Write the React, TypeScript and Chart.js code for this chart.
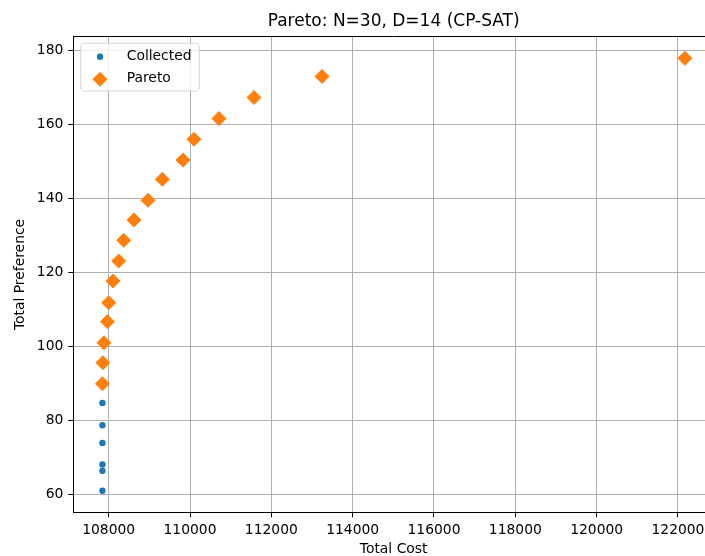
import React, { useEffect, useRef } from 'react';
import { Chart, registerables } from 'chart.js';

Chart.register(...registerables);

const chartTitle = 'Pareto: N=30, D=14 (CP-SAT)';
const xAxisLabel = 'Total Cost';
const yAxisLabel = 'Total Preference';
const collectedName = 'Collected';
const paretoName = 'Pareto';

// Pareto front (orange diamonds)
const paretoCost = [107846, 107858, 107884, 107968, 108000, 108106, 108246, 108369, 108622, 108967, 109321, 109828, 110098, 110713, 111574, 113247, 122170];
const paretoPref = [89.8, 95.5, 100.9, 106.6, 111.7, 117.6, 123.0, 128.6, 134.1, 139.4, 145.1, 150.3, 155.9, 161.5, 167.2, 172.9, 177.8];

// Collected (dominated) solutions, blue dots visible below the front
const collectedCost = [107846, 107846, 107846, 107846, 107846, 107846];
const collectedPref = [84.6, 78.6, 73.8, 68.0, 66.3, 60.9];

const xTicks = [108000, 110000, 112000, 114000, 116000, 118000, 120000, 122000];
const yTicks = [60, 80, 100, 120, 140, 160, 180];

const BLUE = '#1f77b4';
const ORANGE = '#ff7f0e';
const FONT = '"DejaVu Sans", "Liberation Sans", sans-serif';

function margins(vals: number[]) {
  const lo = Math.min(...vals);
  const hi = Math.max(...vals);
  const m = (hi - lo) * 0.05;
  return { min: lo - m, max: hi + m };
}

const overlayPlugin = {
  id: 'overlay',
  afterDraw(chart: any) {
    const { ctx, chartArea: a } = chart;
    ctx.save();
    // top & right spines
    ctx.strokeStyle = '#000';
    ctx.lineWidth = 1;
    ctx.beginPath();
    const ty = Math.floor(a.top) + 0.5;
    ctx.moveTo(a.left, ty);
    ctx.lineTo(a.right, ty);
    ctx.lineTo(a.right, a.bottom);
    ctx.stroke();

    // legend inside axes (upper left)
    const bx = 80.7, by = 43.3, bw = 118.6, bh = 47.7, r = 3;
    ctx.beginPath();
    ctx.moveTo(bx + r, by);
    ctx.lineTo(bx + bw - r, by);
    ctx.arcTo(bx + bw, by, bx + bw, by + r, r);
    ctx.lineTo(bx + bw, by + bh - r);
    ctx.arcTo(bx + bw, by + bh, bx + bw - r, by + bh, r);
    ctx.lineTo(bx + r, by + bh);
    ctx.arcTo(bx, by + bh, bx, by + bh - r, r);
    ctx.lineTo(bx, by + r);
    ctx.arcTo(bx, by, bx + r, by, r);
    ctx.closePath();
    ctx.fillStyle = 'rgba(255,255,255,0.8)';
    ctx.fill();
    ctx.strokeStyle = 'rgba(204,204,204,0.8)';
    ctx.stroke();

    const rows = [56.7, 79.3];
    chart.data.datasets.forEach((ds: any, i: number) => {
      const cy = rows[i];
      const cx = 100;
      ctx.fillStyle = ds.backgroundColor;
      ctx.strokeStyle = ds.borderColor;
      ctx.lineWidth = ds.borderWidth || 0;
      if (ds.pointStyle === 'rectRot') {
        const rad = ds.pointRadius;
        ctx.beginPath();
        ctx.moveTo(cx, cy - rad);
        ctx.lineTo(cx + rad, cy);
        ctx.lineTo(cx, cy + rad);
        ctx.lineTo(cx - rad, cy);
        ctx.closePath();
        ctx.fill();
        if (ctx.lineWidth) ctx.stroke();
      } else {
        ctx.beginPath();
        ctx.arc(cx, cy, ds.pointRadius, 0, Math.PI * 2);
        ctx.fill();
      }
      ctx.fillStyle = '#000';
      ctx.font = `13.89px ${FONT}`;
      ctx.textBaseline = 'middle';
      ctx.textAlign = 'left';
      ctx.fillText(ds.label, 126.7, cy - 0.8);
    });
    ctx.restore();
  },
};

export default function App() {
  const ref = useRef<HTMLCanvasElement | null>(null);

  useEffect(() => {
    if (!ref.current) return;
    const xr = margins([...collectedCost, ...paretoCost]);
    const yr = margins([...collectedPref, ...paretoPref]);
    const chart = new Chart(ref.current, {
      type: 'scatter',
      data: {
        datasets: [
          {
            label: collectedName,
            data: collectedCost.map((x, i) => ({ x, y: collectedPref[i] })),
            backgroundColor: BLUE,
            borderColor: BLUE,
            borderWidth: 0,
            pointStyle: 'circle',
            pointRadius: 3.2,
            pointHoverRadius: 3.2,
          },
          {
            label: paretoName,
            data: paretoCost.map((x, i) => ({ x, y: paretoPref[i] })),
            backgroundColor: ORANGE,
            borderColor: ORANGE,
            borderWidth: 1,
            pointStyle: 'rectRot',
            pointRadius: 7,
            pointHoverRadius: 7,
          },
        ],
      },
      options: {
        animation: false,
        responsive: false,
        devicePixelRatio: 1,
        events: [],
        layout: { padding: { left: 0, right: 16, top: 0, bottom: 0 } },
        plugins: {
          legend: { display: false },
          tooltip: { enabled: false },
          title: {
            display: true,
            text: chartTitle,
            fullSize: false,
            color: '#000',
            font: { family: FONT, size: 17, weight: 'normal', lineHeight: 1.2 },
            padding: { top: 11.5, bottom: 4.8 },
          },
        },
        scales: {
          x: {
            type: 'linear',
            min: xr.min,
            max: xr.max,
            afterBuildTicks: (s: any) => { s.ticks = xTicks.map((v) => ({ value: v })); },
            afterFit: (s: any) => { s.height = 43.7; },
            grid: { color: '#b0b0b0', lineWidth: 1, drawTicks: true, tickLength: 5, tickColor: '#000' },
            border: { display: true, color: '#000', width: 1 },
            ticks: {
              color: '#000',
              padding: 5,
              maxRotation: 0,
              font: { family: FONT, size: 13.89 },
              callback: (v: any) => String(v),
            },
            title: {
              display: true,
              text: xAxisLabel,
              color: '#000',
              font: { family: FONT, size: 13.89, lineHeight: 1 },
              padding: { top: 0, bottom: 0 },
            },
          },
          y: {
            type: 'linear',
            min: yr.min,
            max: yr.max,
            afterBuildTicks: (s: any) => { s.ticks = yTicks.map((v) => ({ value: v })); },
            afterFit: (s: any) => { s.width = 73.3; },
            grid: { color: '#b0b0b0', lineWidth: 1, drawTicks: true, tickLength: 5, tickColor: '#000' },
            border: { display: true, color: '#000', width: 1 },
            ticks: {
              color: '#000',
              padding: 5,
              font: { family: FONT, size: 13.89 },
              callback: (v: any) => String(v),
            },
            title: {
              display: true,
              text: yAxisLabel,
              color: '#000',
              font: { family: FONT, size: 13.89, lineHeight: 1 },
              padding: { top: 13, bottom: 0 },
            },
          },
        },
      },
      plugins: [overlayPlugin],
    } as any);
    return () => chart.destroy();
  }, []);

  return (
    <div style={{ position: 'fixed', left: 0, top: 0, width: 705, height: 556, overflow: 'hidden', background: '#fff' }}>
      <canvas ref={ref} width={730} height={556} style={{ display: 'block', width: 730, height: 556 }} />
    </div>
  );
}
